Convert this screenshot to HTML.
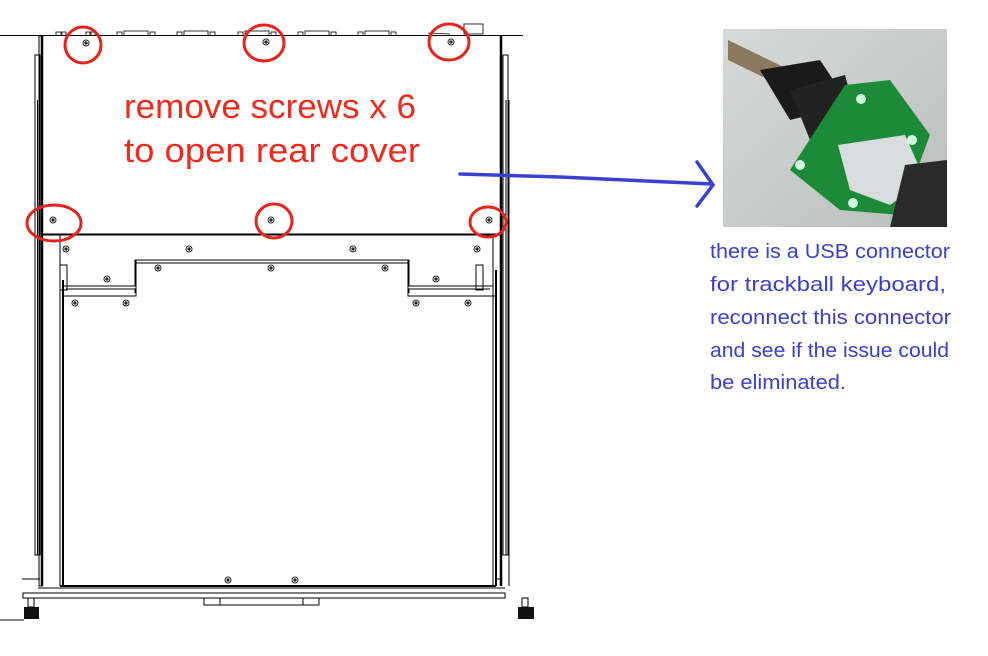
<!DOCTYPE html>
<html><head><meta charset="utf-8"><style>
html,body{margin:0;padding:0;background:#fff;width:988px;height:656px;overflow:hidden}
svg{display:block}
</style></head><body>
<svg width="988" height="656" viewBox="0 0 988 656" xmlns="http://www.w3.org/2000/svg">
<defs>
<linearGradient id="bg" x1="0" y1="0" x2="1" y2="1"><stop offset="0" stop-color="#d7dad8"/><stop offset="1" stop-color="#b9bdbb"/></linearGradient>
<g id="sc"><circle r="3" fill="#fff" stroke="#222" stroke-width="1"/><circle r="1.6" fill="#222"/></g>
</defs>
<g fill="none" stroke="#000" stroke-width="1">
<line x1="0" y1="35.5" x2="523" y2="35.5"/>
<g stroke-width="0.8">
<rect x="56" y="32" width="5" height="3.5"/><rect x="62" y="32" width="4" height="3.5"/><rect x="86" y="32" width="4" height="3.5"/><rect x="91" y="32" width="4" height="3.5"/>
<rect x="117" y="32" width="5" height="3.5"/><rect x="124" y="31" width="24" height="4.5"/><rect x="150" y="32" width="5" height="3.5"/>
<rect x="177" y="32" width="5" height="3.5"/><rect x="184" y="31" width="24" height="4.5"/><rect x="210" y="32" width="5" height="3.5"/>
<rect x="238" y="32" width="5" height="3.5"/><rect x="245" y="31" width="24" height="4.5"/><rect x="271" y="32" width="5" height="3.5"/>
<rect x="298" y="32" width="5" height="3.5"/><rect x="305" y="31" width="24" height="4.5"/><rect x="331" y="32" width="5" height="3.5"/>
<rect x="358" y="32" width="5" height="3.5"/><rect x="365" y="31" width="24" height="4.5"/><rect x="391" y="32" width="5" height="3.5"/>
<rect x="464" y="24" width="19" height="10"/><line x1="428" y1="33" x2="450" y2="34"/>
</g>
<line x1="42" y1="36" x2="42" y2="586" stroke-width="2.5"/>
<rect x="35" y="55" width="5" height="500"/>
<line x1="37.5" y1="100" x2="37.5" y2="555"/>
<rect x="39" y="36" width="3" height="550"/>
<line x1="501" y1="36" x2="501" y2="586" stroke-width="2.5"/>
<rect x="503" y="55" width="5" height="500"/>
<line x1="506" y1="100" x2="506" y2="555"/>
<line x1="509" y1="100" x2="509" y2="586"/>
<line x1="43" y1="234.5" x2="501" y2="234.5" stroke-width="2"/>
<line x1="60" y1="235" x2="60" y2="586"/>
<line x1="63" y1="280" x2="63" y2="586" stroke-width="2"/>
<line x1="493" y1="235" x2="493" y2="586"/>
<line x1="496" y1="270" x2="496" y2="586" stroke-width="2"/>
<path d="M63 286 H135 V260 H409 V286 H493"/>
<path d="M66 289 H135 V293 M135 263 H409 M409 293 V289 H490"/>
<path d="M63 296 H136 V260 M408 260 V296 H496"/>
<rect x="60" y="265" width="7" height="25"/><rect x="476" y="265" width="7" height="25"/>
<line x1="60" y1="586" x2="496" y2="586" stroke-width="2"/>
<rect x="23" y="593" width="482" height="5"/>
<line x1="38" y1="588" x2="505" y2="588"/>
<rect x="204" y="598" width="115" height="7"/>
<line x1="220" y1="598" x2="220" y2="605"/><line x1="303" y1="598" x2="303" y2="605"/>
<line x1="22" y1="579" x2="40" y2="579"/><line x1="495" y1="579" x2="502" y2="579"/>
<line x1="0" y1="620" x2="24" y2="620"/>
</g>
<rect x="24" y="607" width="15" height="12" fill="#111"/>
<rect x="28" y="598" width="6" height="9" fill="none" stroke="#000"/>
<rect x="518" y="607" width="16" height="12" fill="#111"/>
<rect x="522" y="598" width="6" height="9" fill="none" stroke="#000"/>
<use href="#sc" x="86" y="43"/><use href="#sc" x="266" y="42"/><use href="#sc" x="451" y="42"/>
<use href="#sc" x="53" y="220"/><use href="#sc" x="271" y="220"/><use href="#sc" x="489" y="220"/>
<use href="#sc" x="66" y="249"/><use href="#sc" x="189" y="249"/><use href="#sc" x="353" y="249"/><use href="#sc" x="477" y="249"/>
<use href="#sc" x="158" y="268"/><use href="#sc" x="271" y="268"/><use href="#sc" x="385" y="268"/>
<use href="#sc" x="107" y="279"/><use href="#sc" x="436" y="279"/>
<use href="#sc" x="75" y="303"/><use href="#sc" x="126" y="303"/><use href="#sc" x="416" y="303"/><use href="#sc" x="468" y="303"/>
<use href="#sc" x="228" y="580"/><use href="#sc" x="295" y="580"/>
<g fill="none" stroke="#e8231e" stroke-width="3">
<ellipse cx="83" cy="45" rx="18" ry="18"/>
<ellipse cx="264" cy="43" rx="20" ry="18"/>
<ellipse cx="449" cy="42" rx="20" ry="18"/>
<ellipse cx="54" cy="223" rx="27" ry="18"/>
<ellipse cx="274" cy="221" rx="18" ry="17"/>
<ellipse cx="488" cy="222" rx="18" ry="15"/>
</g>
<text x="124" y="118" font-family="Liberation Sans, sans-serif" font-size="34" fill="#f02a1e" textLength="292" lengthAdjust="spacingAndGlyphs">remove screws x 6</text>
<text x="124" y="162" font-family="Liberation Sans, sans-serif" font-size="34" fill="#f02a1e" textLength="296" lengthAdjust="spacingAndGlyphs">to open rear cover</text>
<g stroke="#3b40d0" stroke-width="3.5" fill="none" stroke-linecap="round">
<path d="M460 174 L560 177 L712 184"/>
<path d="M697 162 L713 185 L697 206"/>
</g>
<rect x="723" y="29" width="224" height="198" fill="url(#bg)"/>
<path d="M728 40 L800 75 L800 95 L728 60Z" fill="#8a7a60"/>
<path d="M760 70 L820 60 L850 105 L790 120Z" fill="#1a1a1a"/>
<path d="M790 90 L845 75 L860 130 L810 140Z" fill="#222"/>
<path d="M845 85 L890 80 L930 135 L900 215 L840 210 L790 170Z" fill="#1d8a3a"/>
<path d="M838 145 L905 135 L925 180 L890 205 L850 190Z" fill="#d8dcdc"/>
<path d="M905 165 L947 160 L947 227 L890 227Z" fill="#2a2a2a"/>
<circle cx="861" cy="99" r="5" fill="#cfd"/><circle cx="912" cy="140" r="5" fill="#cfd"/><circle cx="800" cy="165" r="5" fill="#cfd"/><circle cx="853" cy="203" r="5" fill="#cfd"/>
<g font-family="Liberation Sans, sans-serif" font-size="20" fill="#3a3fcf" lengthAdjust="spacingAndGlyphs">
<text x="710" y="258" textLength="240" lengthAdjust="spacingAndGlyphs">there is a USB  connector</text>
<text x="710" y="291" textLength="236" lengthAdjust="spacingAndGlyphs">for trackball keyboard,</text>
<text x="710" y="324" textLength="241" lengthAdjust="spacingAndGlyphs">reconnect this connector</text>
<text x="710" y="357" textLength="239" lengthAdjust="spacingAndGlyphs">and see if the issue could</text>
<text x="710" y="389" textLength="136" lengthAdjust="spacingAndGlyphs">be eliminated.</text>
</g>
</svg>
</body></html>
